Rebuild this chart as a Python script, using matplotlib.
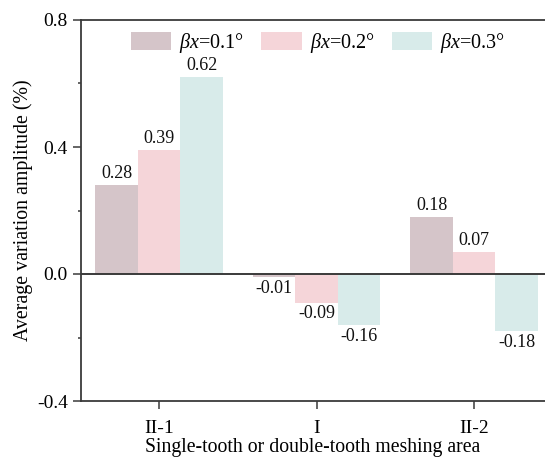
import matplotlib
matplotlib.use("Agg")
import matplotlib.pyplot as plt
from matplotlib.ticker import MultipleLocator, FormatStrFormatter
import numpy as np

plt.rcParams["font.family"] = ["Liberation Serif", "DejaVu Serif"]
plt.rcParams["mathtext.fontset"] = "custom"
plt.rcParams["mathtext.rm"] = "Liberation Serif"
plt.rcParams["mathtext.it"] = "Liberation Serif:italic"

# Meshing areas and average variation amplitude (%) for each beta_x offset
categories = ["II-1", "I", "II-2"]
series_labels = [r"$\beta x$=0.1°", r"$\beta x$=0.2°", r"$\beta x$=0.3°"]
beta_01 = [0.28, -0.01, 0.18]
beta_02 = [0.39, -0.09, 0.07]
beta_03 = [0.62, -0.16, -0.18]
y_ticks = [-0.4, 0.0, 0.4, 0.8]

series = [beta_01, beta_02, beta_03]
colors = ["#d5c5c9", "#f5d5d9", "#d8ebea"]

fig = plt.figure(figsize=(5.45, 4.59), dpi=100)
ax = fig.add_axes([81 / 545, 1 - 401 / 459, 1 - 81 / 545, (401 - 20) / 459])

x = np.arange(len(categories))
width = 0.27
for i, (vals, lab, col) in enumerate(zip(series, series_labels, colors)):
    bars = ax.bar(x + (i - 1) * width, vals, width, color=col, label=lab,
                  edgecolor="none")
    ax.bar_label(bars, labels=[f"{v:.2f}" for v in vals], padding=2,
                 fontsize=13, color="#111111")

ax.axhline(0, color="#3a3a3a", lw=1.4, zorder=3)

ax.set_xlim(-0.495, 2.45)
ax.set_ylim(-0.4, 0.8)
ax.set_yticks(y_ticks)
ax.yaxis.set_major_formatter(FormatStrFormatter("%.1f"))
ax.yaxis.set_minor_locator(MultipleLocator(0.2))
ax.set_xticks(x)
ax.set_xticklabels(categories)

for side in ["left", "top", "bottom"]:
    ax.spines[side].set_color("#3a3a3a")
    ax.spines[side].set_linewidth(1.3)
ax.spines["right"].set_visible(False)

ax.tick_params(axis="both", which="major", length=5.5, width=1.1,
               color="#3a3a3a", labelsize=14, pad=4, direction="out")
ax.tick_params(axis="y", which="minor", length=2.5, width=1.1,
               color="#3a3a3a")
ax.tick_params(axis="x", pad=8)

ax.set_ylabel("Average variation amplitude (%)", fontsize=14.3, labelpad=3)
ax.set_xlabel("Single-tooth or double-tooth meshing area", fontsize=14.2,
              labelpad=1)

leg = ax.legend(loc="upper left", bbox_to_anchor=(131 / 545, 1 - 31 / 459),
                bbox_transform=fig.transFigure, ncol=3, frameon=False,
                fontsize=14.5, handlelength=2.0, handleheight=1.05,
                handletextpad=0.4, columnspacing=0.85, borderpad=0,
                borderaxespad=0)

fig.savefig("out.png", dpi=100)
